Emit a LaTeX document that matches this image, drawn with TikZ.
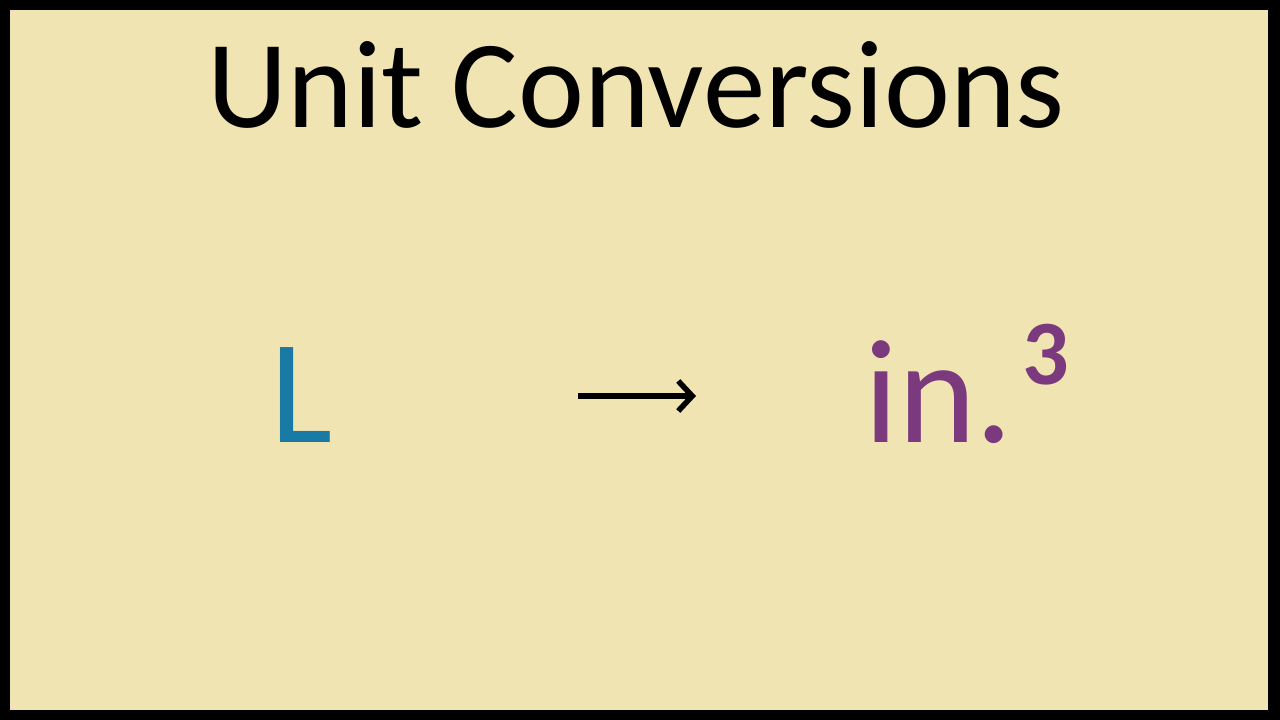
\documentclass[tikz,border=0pt]{standalone}
\usepackage{fontspec}
\setmainfont{Carlito}
\usetikzlibrary{arrows.meta}
\definecolor{bg}{HTML}{F0E4B2}
\definecolor{lblue}{HTML}{1A7AA6}
\definecolor{ipurp}{HTML}{7C3A7E}
\tikzset{txt/.style={inner sep=0pt,anchor=base west}}
\begin{document}
\begin{tikzpicture}[x=1pt,y=1pt]
\useasboundingbox (0,0) rectangle (1280,720);
\fill[black] (0,0) rectangle (1280,720);
\fill[bg] (10,10) rectangle (1268,710);
\node[txt,font=\fontsize{125}{130}\selectfont] (title) at (207,592) {Unit Conversions};
\node[txt,text=lblue,font=\fontsize{148}{150}\selectfont] (L) at (270,277) {L};
\node[txt,text=ipurp,font=\fontsize{148}{150}\selectfont] (in) at (864,277) {in.};
\node[txt,text=ipurp,font=\bfseries\fontsize{92}{92}\selectfont] (three) at (1022,335) {3};
\coordinate (a1) at (578,324);
\coordinate (a2) at (696,324);
\draw[line width=5.5pt,-{Straight Barb[length=14pt,width=30pt,line width=5.5pt]}] (a1) -- (a2);
\end{tikzpicture}
\end{document}
